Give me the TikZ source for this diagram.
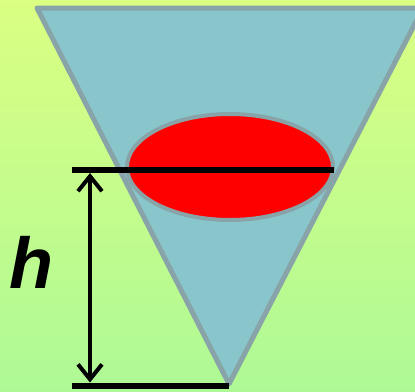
\documentclass[tikz,border=0pt]{standalone}
\usepackage{fontspec}
\setmainfont{Liberation Sans}
\usetikzlibrary{arrows.meta,shapes.geometric}
\definecolor{bgtop}{RGB}{218,255,130}
\definecolor{bgbot}{RGB}{174,249,150}
\definecolor{conefill}{RGB}{137,198,204}
\definecolor{coneedge}{RGB}{136,164,168}
\definecolor{blobred}{RGB}{255,0,0}
\tikzset{
  cone/.style={fill=conefill,draw=coneedge,line width=5pt,line join=round},
  blob/.style={fill=blobred,draw=coneedge,line width=4pt},
  level/.style={draw=black,line width=6pt},
  dim/.style={draw=black,line width=4pt,{Straight Barb[length=15pt,width=24pt,line width=4pt]}-{Straight Barb[length=15pt,width=24pt,line width=4pt]}},
}
\begin{document}
\begin{tikzpicture}[x=1pt,y=-1pt]
\useasboundingbox (0,0) rectangle (415,391);
\shade[top color=bgtop,bottom color=bgbot] (0,0) rectangle (415,391);
\begin{scope}
\clip (0,0) rectangle (415,391);
\coordinate (tl) at (37,8);
\coordinate (tr) at (423,8);
\coordinate (tip) at (229,384);
\draw[cone] (tl) -- (tr) -- (tip) -- cycle;
\end{scope}
\node[blob,ellipse,minimum width=206pt,minimum height=106pt,inner sep=0pt] (el) at (230,167) {};
\coordinate (l1a) at (72,170);
\coordinate (l1b) at (334,170);
\coordinate (l2a) at (72,385.5);
\coordinate (l2b) at (229,385.5);
\draw[level] (l1a) -- (l1b);
\draw[level] (l2a) -- (l2b);
\coordinate (da) at (90,173);
\coordinate (db) at (90,382.5);
\draw[dim] (da) -- (db);
\node[font=\fontsize{72}{72}\selectfont\bfseries\itshape,inner sep=0pt] (h) at (31,262) {h};
\end{tikzpicture}
\end{document}
